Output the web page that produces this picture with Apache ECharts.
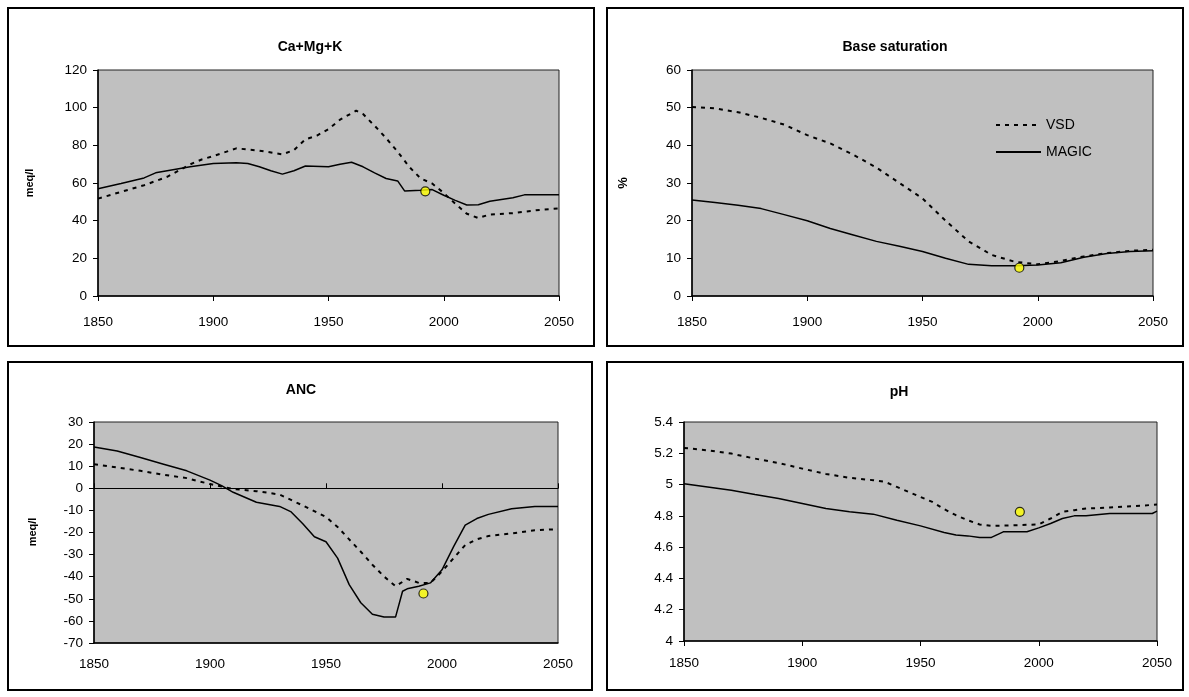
<!DOCTYPE html>
<html>
	<head>
		<meta charset="UTF-8">
		<title>VSD / MAGIC</title>
	</head>
	<style type="text/css">
		body {
			margin: 0;
			padding: 0;
			background: #fff;
		}

		#chart {
			width: 1189px;
			height: 697px;
		}
	</style>
	<body>
		<div id="chart"></div>
		<script src="https://cdn.jsdelivr.net/npm/echarts@6/dist/echarts.min.js" type="text/javascript" charset="utf-8"></script>
		<script>
			// Ca+Mg+K
			var caMagicYears = [1850, 1860, 1870, 1875, 1880, 1890, 1900, 1910, 1915, 1920, 1925, 1930, 1935, 1940, 1950, 1955, 1960, 1965, 1970, 1975, 1980, 1983, 1990, 1995, 2000, 2005, 2010, 2015, 2020, 2030, 2035, 2040, 2050];
			var caMagic = [57.0, 59.7, 62.7, 65.4, 66.5, 68.6, 70.4, 70.8, 70.4, 68.6, 66.5, 64.7, 66.5, 69.0, 68.6, 69.9, 71.0, 68.6, 65.4, 62.4, 61.1, 55.8, 56.1, 56.5, 53.5, 50.8, 48.3, 48.5, 50.3, 52.2, 53.7, 53.8, 53.8];
			var caVsdYears = [1850, 1860, 1870, 1880, 1890, 1895, 1900, 1910, 1920, 1930, 1935, 1940, 1945, 1950, 1955, 1962, 1965, 1970, 1975, 1980, 1985, 1990, 1995, 2000, 2005, 2010, 2015, 2020, 2030, 2040, 2050];
			var caVsd = [51.7, 55.3, 58.8, 63.3, 69.9, 72.5, 74.3, 78.4, 77.2, 75.2, 77.5, 83.2, 85.2, 88.6, 93.6, 98.4, 96.6, 90.4, 83.8, 76.6, 68.6, 62.4, 59.7, 54.7, 49.0, 43.7, 41.4, 43.3, 44.0, 45.5, 46.5];
			var caObs = [[1992, 55.6]];

			// Base saturation
			var bsYears = [1850, 1860, 1870, 1880, 1890, 1900, 1910, 1920, 1930, 1940, 1950, 1960, 1970, 1980, 1990, 2000, 2010, 2020, 2030, 2040, 2050];
			var bsMagic = [25.5, 24.8, 24.1, 23.2, 21.6, 20.0, 17.9, 16.2, 14.5, 13.2, 11.8, 10.0, 8.4, 8.0, 8.0, 8.2, 8.8, 10.3, 11.3, 11.8, 12.0];
			var bsVsd = [50.2, 49.8, 48.8, 47.3, 45.5, 42.7, 40.5, 37.5, 34.1, 30.0, 25.9, 20.0, 14.5, 10.9, 9.1, 8.4, 9.3, 10.5, 11.4, 12.0, 12.3];
			var bsObs = [[1992, 7.5]];

			// ANC
			var ancMagicYears = [1850, 1860, 1870, 1880, 1890, 1900, 1905, 1910, 1920, 1930, 1935, 1940, 1945, 1950, 1955, 1960, 1965, 1970, 1975, 1980, 1983, 1985, 1990, 1995, 2000, 2005, 2010, 2015, 2020, 2030, 2040, 2050];
			var ancMagic = [18.7, 16.9, 13.9, 10.9, 7.9, 3.7, 1.2, -1.8, -6.3, -8.2, -10.7, -16.0, -21.9, -24.2, -31.6, -43.6, -51.8, -57.0, -58.2, -58.2, -46.6, -45.5, -44.3, -42.8, -36.9, -26.4, -16.7, -13.7, -11.8, -9.3, -8.2, -8.2];
			var ancVsdYears = [1850, 1860, 1870, 1880, 1890, 1900, 1910, 1920, 1930, 1940, 1950, 1955, 1960, 1965, 1970, 1975, 1980, 1985, 1990, 1995, 2000, 2005, 2010, 2015, 2020, 2030, 2040, 2050];
			var ancVsd = [10.9, 9.4, 7.9, 6.1, 4.6, 1.9, -0.3, -1.3, -2.8, -7.8, -13.0, -17.5, -23.1, -28.7, -34.6, -39.9, -44.3, -41.0, -42.8, -42.8, -37.6, -31.6, -25.7, -23.1, -21.6, -20.4, -19.0, -18.5];
			var ancObs = [[1992, -47.6]];

			// pH
			var phMagicYears = [1850, 1860, 1870, 1880, 1890, 1900, 1910, 1920, 1930, 1940, 1950, 1960, 1965, 1970, 1975, 1980, 1985, 1990, 1995, 2000, 2005, 2010, 2015, 2020, 2030, 2040, 2048, 2050];
			var phMagic = [5.006, 4.985, 4.964, 4.936, 4.911, 4.879, 4.847, 4.826, 4.811, 4.772, 4.736, 4.694, 4.677, 4.672, 4.662, 4.662, 4.698, 4.698, 4.698, 4.723, 4.751, 4.783, 4.8, 4.8, 4.815, 4.815, 4.815, 4.83];
			var phVsdYears = [1850, 1860, 1870, 1880, 1890, 1900, 1910, 1920, 1930, 1935, 1940, 1945, 1950, 1955, 1960, 1965, 1970, 1975, 1980, 1990, 2000, 2005, 2010, 2015, 2020, 2030, 2040, 2050];
			var phVsd = [5.234, 5.219, 5.198, 5.166, 5.138, 5.102, 5.068, 5.043, 5.028, 5.017, 4.985, 4.953, 4.921, 4.889, 4.843, 4.804, 4.772, 4.745, 4.736, 4.740, 4.745, 4.783, 4.826, 4.836, 4.847, 4.853, 4.862, 4.872];
			var phObs = [[1992, 4.826]];

			var panelTitles = ['Ca+Mg+K', 'Base saturation', 'ANC', 'pH'];
			var yMin = [0, 0, -70, 4];
			var yMax = [120, 60, 30, 5.4];
			var yStep = [20, 10, 10, 0.2];

			var FONT = 'Liberation Sans, Arial, sans-serif';

			function pairs(xs, ys) {
				var out = [];
				for (var i = 0; i < xs.length; i++) {
					out.push([xs[i], ys[i]]);
				}
				return out;
			}

			var grids = [
				{ left: 98, top: 70, width: 461, height: 226 },
				{ left: 692, top: 70, width: 461, height: 226 },
				{ left: 94, top: 422, width: 464, height: 221 },
				{ left: 684, top: 422, width: 473, height: 219 }
			];
			var labelMargin = [19, 19, 14, 15];

			var xAxes = [];
			var yAxes = [];
			for (var i = 0; i < 4; i++) {
				grids[i].show = true;
				grids[i].backgroundColor = '#c0c0c0';
				grids[i].borderColor = '#222';
				grids[i].borderWidth = 1;
				xAxes.push({
					type: 'value', gridIndex: i, min: 1850, max: 2050, interval: 50,
					position: 'bottom',
					axisLine: { onZero: false, lineStyle: { color: '#000', width: 1.5 } },
					axisTick: { show: i !== 2, inside: false, length: 5, lineStyle: { color: '#000' } },
					axisLabel: { color: '#000', fontFamily: FONT, fontSize: 13.5, margin: labelMargin[i],
						formatter: function (v) { return String(v); } },
					splitLine: { show: false }
				});
				yAxes.push({
					type: 'value', gridIndex: i, min: yMin[i], max: yMax[i], interval: yStep[i],
					axisLine: { show: true, lineStyle: { color: '#000', width: 1.5 } },
					axisTick: { show: true, length: 5, lineStyle: { color: '#000' } },
					axisLabel: { color: '#000', fontFamily: FONT, fontSize: 13.5, margin: 11,
						formatter: function (v) { return String(+v.toFixed(1)); } },
					splitLine: { show: false }
				});
			}
			// zero line with ticks in the ANC panel
			xAxes.push({
				type: 'value', gridIndex: 2, min: 1850, max: 2050, interval: 50,
				axisLine: { onZero: true, lineStyle: { color: '#000', width: 1.2 } },
				axisTick: { show: true, length: 5, lineStyle: { color: '#000' } },
				axisLabel: { show: false },
				splitLine: { show: false }
			});

			var vsdStyle = { color: '#000', width: 2, type: [4, 5] };
			var magicStyle = { color: '#000', width: 1.5 };

			function lineSeries(name, idx, data, style) {
				return {
					name: name, type: 'line', xAxisIndex: idx, yAxisIndex: idx,
					data: data, showSymbol: false, symbol: 'none', lineStyle: style,
					itemStyle: { color: '#000' }, animation: false, silent: true
				};
			}
			function obsSeries(idx, data) {
				return {
					name: 'obs', type: 'scatter', xAxisIndex: idx, yAxisIndex: idx, data: data,
					symbolSize: 9, itemStyle: { color: '#ffff00', borderColor: '#000', borderWidth: 1.2 },
					animation: false, silent: true, z: 5
				};
			}

			var series = [
				lineSeries('VSD', 0, pairs(caVsdYears, caVsd), vsdStyle),
				lineSeries('MAGIC', 0, pairs(caMagicYears, caMagic), magicStyle),
				obsSeries(0, caObs),
				lineSeries('VSD', 1, pairs(bsYears, bsVsd), vsdStyle),
				lineSeries('MAGIC', 1, pairs(bsYears, bsMagic), magicStyle),
				obsSeries(1, bsObs),
				lineSeries('VSD', 2, pairs(ancVsdYears, ancVsd), vsdStyle),
				lineSeries('MAGIC', 2, pairs(ancMagicYears, ancMagic), magicStyle),
				obsSeries(2, ancObs),
				lineSeries('VSD', 3, pairs(phVsdYears, phVsd), vsdStyle),
				lineSeries('MAGIC', 3, pairs(phMagicYears, phMagic), magicStyle),
				obsSeries(3, phObs)
			];

			var boxes = [
				[8, 8, 586, 338], [607, 8, 576, 338],
				[8, 362, 584, 328], [607, 362, 576, 328]
			];
			var titlePos = [[310, 47], [895, 47], [301, 390], [899, 392]];

			var graphics = [];
			for (var b = 0; b < 4; b++) {
				graphics.push({
					type: 'rect', silent: true, z: -1,
					shape: { x: boxes[b][0], y: boxes[b][1], width: boxes[b][2], height: boxes[b][3] },
					style: { fill: '#fff', stroke: '#000', lineWidth: 2 }
				});
				graphics.push({
					type: 'text', silent: true, x: titlePos[b][0], y: titlePos[b][1],
					style: { text: panelTitles[b], font: 'bold 14px ' + FONT, fill: '#000', textAlign: 'center', textVerticalAlign: 'middle' }
				});
			}
			// y-axis names
			graphics.push({ type: 'text', silent: true, x: 30, y: 183, rotation: Math.PI / 2,
				style: { text: 'meq/l', font: 'bold 11px ' + FONT, fill: '#000', textAlign: 'center', textVerticalAlign: 'middle' } });
			graphics.push({ type: 'text', silent: true, x: 623, y: 183, rotation: Math.PI / 2,
				style: { text: '%', font: 'bold 13px ' + FONT, fill: '#000', textAlign: 'center', textVerticalAlign: 'middle' } });
			graphics.push({ type: 'text', silent: true, x: 33, y: 532, rotation: Math.PI / 2,
				style: { text: 'meq/l', font: 'bold 11px ' + FONT, fill: '#000', textAlign: 'center', textVerticalAlign: 'middle' } });

			var chart = echarts.init(document.getElementById('chart'));
			chart.setOption({
				animation: false,
				backgroundColor: '#fff',
				grid: grids,
				xAxis: xAxes,
				yAxis: yAxes,
				legend: {
					data: ['VSD', 'MAGIC'],
					orient: 'vertical',
					left: 990, top: 113,
					itemWidth: 45, itemHeight: 14, itemGap: 13,
					itemStyle: { opacity: 0 },
					textStyle: { color: '#000', fontFamily: FONT, fontSize: 14 },
					selectedMode: false
				},
				graphic: graphics,
				series: series
			});
		</script>
	</body>
</html>
